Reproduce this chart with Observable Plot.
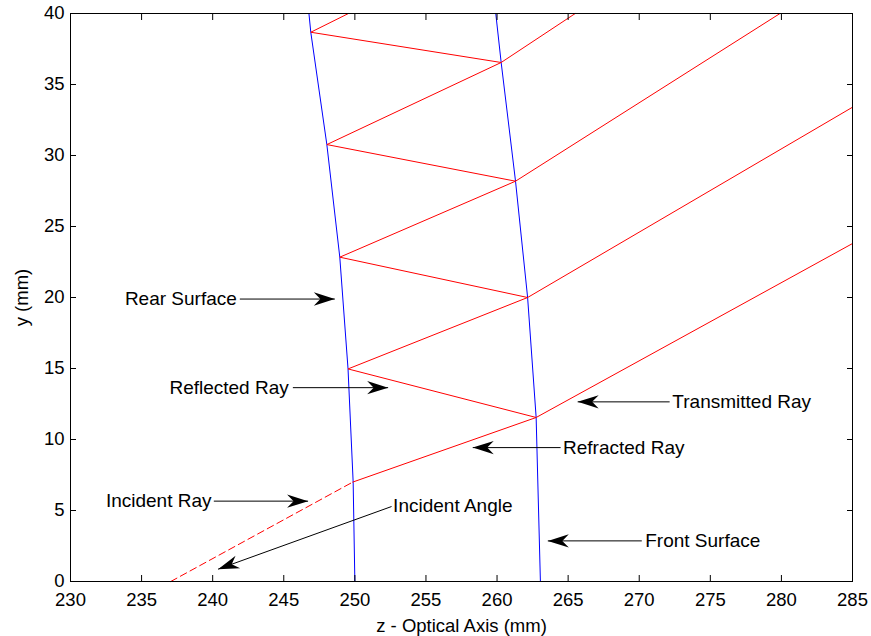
<!DOCTYPE html>
<html><head><meta charset="utf-8">
<script src="https://cdn.jsdelivr.net/npm/d3@7"></script>
<script src="https://cdn.jsdelivr.net/npm/@observablehq/plot@0.6"></script>
<style>body{margin:0;background:#fff}</style>
</head><body><div id="chart"></div>
<script>
// Tick values
const xTicks = [230, 235, 240, 245, 250, 255, 260, 265, 270, 275, 280, 285];
const yTicks = [0, 5, 10, 15, 20, 25, 30, 35, 40];

// Lens surfaces (z, y)
const rearZ  = [250.0, 249.88, 249.52, 248.94, 248.03, 246.9, 246.77];
const rearY  = [0, 7.0, 14.97, 22.84, 30.77, 38.68, 40];
const frontZ = [263.05, 262.75, 262.15, 261.3, 260.29, 259.91];
const frontY = [0, 11.55, 20.0, 28.19, 36.55, 40];

// Incident ray (dashed)
const incidentZ = [237.05, 249.85];
const incidentY = [0, 7.0];

// Internal zig-zag ray path
const rayZ = [249.85, 262.75, 249.52, 262.15, 248.94, 261.3, 248.03, 260.29, 246.9, 249.55];
const rayY = [7.0, 11.55, 14.97, 20.0, 22.84, 28.19, 30.77, 36.55, 38.68, 40];

// Transmitted rays: start at front-surface hits, end at plot edge
const exitFromZ = [262.75, 262.15, 261.3, 260.29];
const exitFromY = [11.55, 20.0, 28.19, 36.55];
const exitToZ   = [285, 285, 279.9, 265.5];
const exitToY   = [23.8, 33.4, 40, 40];

// Annotations
const annText  = ["Rear Surface", "Reflected Ray", "Incident Ray", "Incident Angle", "Transmitted Ray", "Refracted Ray", "Front Surface"];
const annSide  = ["end", "end", "end", "start", "start", "start", "start"];
const annTextZ = [241.70, 245.35, 239.92, 252.69, 272.33, 264.64, 270.42];
const annTextY = [19.89, 13.65, 5.66, 5.35, 12.65, 9.43, 2.86];
const arrowFromZ = [241.91, 245.64, 240.08, 252.58, 272.14, 264.47, 270.18];
const arrowFromY = [19.89, 13.65, 5.66, 5.28, 12.65, 9.43, 2.86];
const arrowToZ   = [248.59, 252.34, 246.71, 240.38, 265.67, 258.29, 263.57];
const arrowToY   = [19.89, 13.65, 5.66, 0.87, 12.65, 9.43, 2.86];

const pts = (zs, ys) => zs.map((z, i) => ({z, y: ys[i]}));
const rear = pts(rearZ, rearY);
const front = pts(frontZ, frontY);
const incident = pts(incidentZ, incidentY);
const ray = pts(rayZ, rayY);
const exits = exitFromZ.map((z, i) => ({z1: z, y1: exitFromY[i], z2: exitToZ[i], y2: exitToY[i]}));
const ann = annText.map((t, i) => ({
  text: t, side: annSide[i], tz: annTextZ[i], ty: annTextY[i],
  z1: arrowFromZ[i], y1: arrowFromY[i], z2: arrowToZ[i], y2: arrowToY[i]
}));

const FONT = "'Liberation Sans', Arial, Helvetica, sans-serif";

const base = {
  width: 871,
  height: 636,
  marginLeft: 70,
  marginRight: 19,
  marginTop: 13,
  marginBottom: 55,
  style: {fontFamily: FONT, fontSize: "18.5px", background: "white", color: "black"},
  x: {domain: [230, 285]},
  y: {domain: [0, 40]}
};

const axes = [
  Plot.axisX(xTicks, {anchor: "bottom", tickSize: -6, tickPadding: 17, label: "z - Optical Axis (mm)",
    labelAnchor: "center", labelArrow: "none", labelOffset: 50, fontSize: 18.5}),
  Plot.axisX(xTicks, {anchor: "top", tickSize: -6, tickFormat: () => "", label: null}),
  Plot.axisY(yTicks, {anchor: "left", tickSize: -6, tickPadding: 12, label: "y (mm)",
    labelAnchor: "center", labelArrow: "none", labelOffset: 56, fontSize: 18.5}),
  Plot.axisY(yTicks, {anchor: "right", tickSize: -6, tickFormat: () => "", label: null}),
  Plot.frame({stroke: "black", strokeWidth: 1})
];

// probe to get scales for arrowhead angles
const probe = Plot.plot({...base, marks: axes});
const sx = probe.scale("x"), sy = probe.scale("y");
ann.forEach(a => {
  const dx = sx.apply(a.z2) - sx.apply(a.z1);
  const dy = sy.apply(a.y2) - sy.apply(a.y1);
  a.angle = Math.atan2(dy, dx) * 180 / Math.PI;
});

const arrowHead = {
  draw(context) {
    context.moveTo(0, 0);
    context.lineTo(-21, -6.7);
    context.lineTo(-14.5, 0);
    context.lineTo(-21, 6.7);
    context.closePath();
  }
};

const chart = Plot.plot({
  ...base,
  marks: [
    Plot.line(rear, {x: "z", y: "y", stroke: "#0000ff", strokeWidth: 1}),
    Plot.line(front, {x: "z", y: "y", stroke: "#0000ff", strokeWidth: 1}),
    Plot.line(incident, {x: "z", y: "y", stroke: "#ff0000", strokeWidth: 1, strokeDasharray: "7,4"}),
    Plot.line(ray, {x: "z", y: "y", stroke: "#ff0000", strokeWidth: 1}),
    Plot.link(exits, {x1: "z1", y1: "y1", x2: "z2", y2: "y2", stroke: "#ff0000", strokeWidth: 1}),
    Plot.link(ann, {x1: "z1", y1: "y1", x2: "z2", y2: "y2", stroke: "black", strokeWidth: 1}),
    Plot.dot(ann, {x: "z2", y: "y2", symbol: arrowHead, rotate: "angle", fill: "black", stroke: "none", r: 5}),
    Plot.text(ann.filter(d => d.side === "end"), {x: "tz", y: "ty", text: "text", textAnchor: "end", fontSize: 19, fill: "black"}),
    Plot.text(ann.filter(d => d.side === "start"), {x: "tz", y: "ty", text: "text", textAnchor: "start", fontSize: 19, fill: "black"}),
    ...axes
  ]
});
document.getElementById("chart").appendChild(chart);
</script>
</body></html>
